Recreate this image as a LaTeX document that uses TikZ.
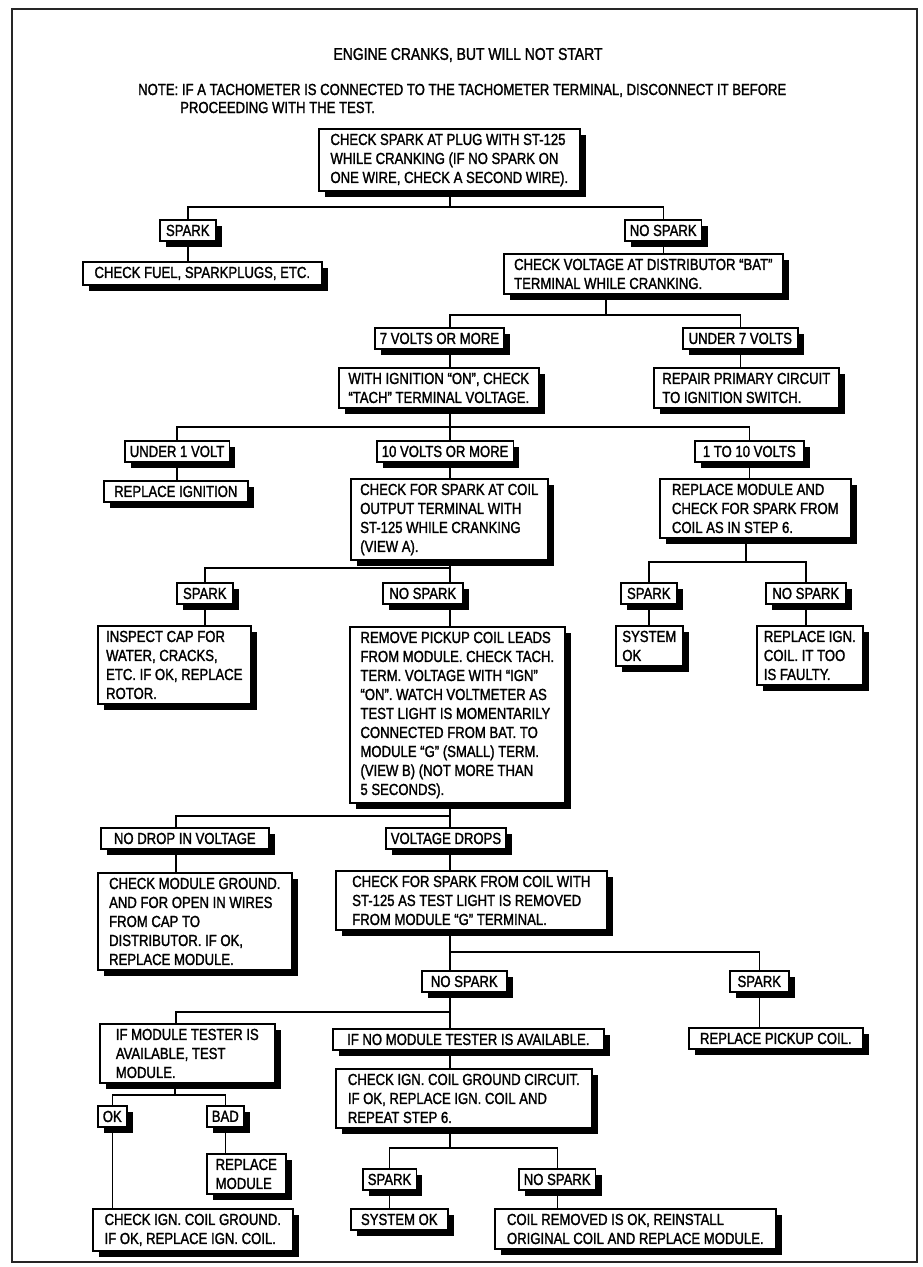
\documentclass[tikz,border=0pt]{standalone}
\usepackage{fontspec}
\setmainfont{Liberation Sans}[FakeStretch=0.82, FakeBold=1.5]
\usetikzlibrary{shadows}
\newcommand{\boxfont}{\fontsize{16}{19}\selectfont}

\begin{document}
\begin{tikzpicture}[
    x=1pt, y=-1pt,
    testbox/.style={draw, fill=white, line width=1.6pt, align=left, anchor=north west,
        inner xsep=5pt, inner ysep=5pt, font=\boxfont,
        drop shadow={shadow xshift=6pt, shadow yshift=-6pt, fill=black, opacity=1}},
    link/.style={line width=1.4pt}
]
\useasboundingbox (0,0) rectangle (922,1267);
\draw[line width=1.8pt, black!85] (12,9) rectangle (917,1262);

% ---- Heading ----
\node[font=\fontsize{17}{20}\selectfont] (title) at (468,55) {ENGINE CRANKS, BUT WILL NOT START};
\node[anchor=base west, font=\boxfont, inner sep=0pt] (note) at (138,95)
    {NOTE: IF A TACHOMETER IS CONNECTED TO THE TACHOMETER TERMINAL, DISCONNECT IT BEFORE};
\node[anchor=base west, font=\boxfont, inner sep=0pt] (notecont) at (180,113) {PROCEEDING WITH THE TEST.};

% ---- Spark at plug ----
\node[testbox, minimum width=261pt] (plug) at (318,128) {CHECK SPARK AT PLUG WITH ST-125\\WHILE CRANKING (IF NO SPARK ON\\ONE WIRE, CHECK A SECOND WIRE).};
\node[testbox, minimum width=56pt]  (spk1)  at (159,219) {SPARK};
\node[testbox, minimum width=73pt]  (nspk1) at (624,219) {NO SPARK};
\node[testbox, minimum width=239pt] (fuel)  at (82,261)  {CHECK FUEL, SPARKPLUGS, ETC.};
\node[testbox, minimum width=279pt] (bat)   at (503,253) {CHECK VOLTAGE AT DISTRIBUTOR ``BAT''\\TERMINAL WHILE CRANKING.};

% ---- Bat voltage ----
\node[testbox, minimum width=129pt] (v7up) at (374,327) {7 VOLTS OR MORE};
\node[testbox, minimum width=115pt] (v7dn) at (682,327) {UNDER 7 VOLTS};
\node[testbox, minimum width=200pt] (tach) at (338,367) {WITH IGNITION ``ON'', CHECK\\``TACH'' TERMINAL VOLTAGE.};
\node[testbox, minimum width=185pt] (prim) at (653,367) {REPAIR PRIMARY CIRCUIT\\TO IGNITION SWITCH.};

% ---- Tach voltage ----
\node[testbox, minimum width=102pt] (v1dn)    at (124,440) {UNDER 1 VOLT};
\node[testbox, minimum width=133pt] (v10up)   at (376,440) {10 VOLTS OR MORE};
\node[testbox, minimum width=109pt] (v1to10)  at (694,440) {1 TO 10 VOLTS};
\node[testbox, minimum width=144pt] (ign)     at (103,480) {REPLACE IGNITION};
\node[testbox, minimum width=197pt] (coilout) at (350,478) {CHECK FOR SPARK AT COIL\\OUTPUT TERMINAL WITH\\ST-125 WHILE CRANKING\\(VIEW A).};
\node[testbox, minimum width=191pt] (modstep) at (659,478) {REPLACE MODULE AND\\CHECK FOR SPARK FROM\\COIL AS IN STEP 6.};

% ---- Coil output ----
\node[testbox, minimum width=56pt]  (spk2)    at (176,582) {SPARK};
\node[testbox, minimum width=80pt]  (nspk2)   at (382,582) {NO SPARK};
\node[testbox, minimum width=56pt]  (spk3)    at (620,582) {SPARK};
\node[testbox, minimum width=80pt]  (nspk3)   at (765,582) {NO SPARK};
\node[testbox, minimum width=153pt] (capchk)  at (97,625)  {INSPECT CAP FOR\\WATER, CRACKS,\\ETC. IF OK, REPLACE\\ROTOR.};
\node[testbox, minimum width=215pt] (pickup)  at (349,626) {REMOVE PICKUP COIL LEADS\\FROM MODULE. CHECK TACH.\\TERM. VOLTAGE WITH ``IGN''\\``ON''. WATCH VOLTMETER AS\\TEST LIGHT IS MOMENTARILY\\CONNECTED FROM BAT. TO\\MODULE ``G'' (SMALL) TERM.\\(VIEW B) (NOT MORE THAN\\5 SECONDS).};
\node[testbox, minimum width=67pt]  (sysok1)  at (615,625) {SYSTEM\\OK};
\node[testbox, minimum width=106pt] (igncoil) at (756,625) {REPLACE IGN.\\COIL. IT TOO\\IS FAULTY.};

% ---- Voltmeter ----
\node[testbox, minimum width=168pt] (nodrop) at (100,827) {NO DROP IN VOLTAGE};
\node[testbox, minimum width=118pt] (vdrop)  at (385,827) {VOLTAGE DROPS};
\node[testbox, minimum width=194pt] (modgnd) at (97,872)  {CHECK MODULE GROUND.\\AND FOR OPEN IN WIRES\\FROM CAP TO\\DISTRIBUTOR. IF OK,\\REPLACE MODULE.};
\node[testbox, minimum width=271pt] (gterm)  at (335,870) {CHECK FOR SPARK FROM COIL WITH\\ST-125 AS TEST LIGHT IS REMOVED\\FROM MODULE ``G'' TERMINAL.};

% ---- G terminal ----
\node[testbox, minimum width=85pt]  (nspk4)    at (421,970)  {NO SPARK};
\node[testbox, minimum width=59pt]  (spk4)     at (729,970)  {SPARK};
\node[testbox, minimum width=175pt] (tester)   at (99,1023)  {IF MODULE TESTER IS\\AVAILABLE, TEST\\MODULE.};
\node[testbox, minimum width=271pt] (notester) at (332,1028) {IF NO MODULE TESTER IS AVAILABLE.};
\node[testbox, minimum width=174pt] (pickcoil) at (688,1027) {REPLACE PICKUP COIL.};
\node[testbox, minimum width=256pt] (gndcirc)  at (335,1068) {CHECK IGN. COIL GROUND CIRCUIT.\\IF OK, REPLACE IGN. COIL AND\\REPEAT STEP 6.};

% ---- Module tester / ground circuit ----
\node[testbox, minimum width=29pt]  (okay)   at (97,1105)  {OK};
\node[testbox, minimum width=35pt]  (bad)    at (206,1105) {BAD};
\node[testbox, minimum width=79pt]  (repmod) at (206,1153) {REPLACE\\MODULE};
\node[testbox, minimum width=200pt] (igngnd) at (92,1208)  {CHECK IGN. COIL GROUND.\\IF OK, REPLACE IGN. COIL.};
\node[testbox, minimum width=50pt]  (spk5)   at (362,1168) {SPARK};
\node[testbox, minimum width=73pt]  (nspk5)  at (518,1168) {NO SPARK};
\node[testbox, minimum width=97pt]  (sysok2) at (350,1208) {SYSTEM OK};
\node[testbox, minimum width=281pt] (reinst) at (494,1208) {COIL REMOVED IS OK, REINSTALL\\ORIGINAL COIL AND REPLACE MODULE.};

% ---- Connectors ----
\coordinate (spine) at (450,0);
\coordinate (lft)   at (176,0);
\coordinate (b1)  at (450,207);
\coordinate (b2)  at (606,315);
\coordinate (b3)  at (450,427);
\coordinate (b4)  at (450,568);
\coordinate (b5)  at (746,562);
\coordinate (b6)  at (450,816);
\coordinate (b7)  at (450,952);
\coordinate (b8)  at (450,1012);
\coordinate (b9)  at (175,1095);
\coordinate (b10) at (450,1148);

\draw[link] (plug.south -| b1) -- (b1) -| (spk1.north);
\draw[link] (b1) -| (nspk1.north);
\draw[link] (spk1.south) -- (spk1.south |- fuel.north);
\draw[link] (nspk1.south) -- (nspk1.south |- bat.north);

\draw[link] (bat.south -| b2) -- (b2) -| (v7up.north -| spine);
\draw[link] (b2) -| (v7dn.north);
\draw[link] (v7up.south -| spine) -- (tach.north -| spine);
\draw[link] (v7dn.south) -- (v7dn.south |- prim.north);

\draw[link] (tach.south -| b3) -- (b3) -| (v1dn.north);
\draw[link] (b3) -| (v1to10.north);
\draw[link] (b3) -- (v10up.north -| b3);
\draw[link] (v1dn.south) -- (v1dn.south |- ign.north);
\draw[link] (v10up.south -| spine) -- (coilout.north -| spine);
\draw[link] (v1to10.south) -- (v1to10.south |- modstep.north);

\draw[link] (coilout.south -| b4) -- (b4) -| (spk2.north);
\draw[link] (b4) -- (nspk2.north -| b4);
\draw[link] (modstep.south -| b5) -- (b5) -| (spk3.north);
\draw[link] (b5) -| (nspk3.north);
\draw[link] (spk2.south) -- (spk2.south |- capchk.north);
\draw[link] (nspk2.south -| spine) -- (pickup.north -| spine);
\draw[link] (spk3.south) -- (spk3.south |- sysok1.north);
\draw[link] (nspk3.south) -- (nspk3.south |- igncoil.north);

\draw[link] (pickup.south -| b6) -- (b6) -| (nodrop.north -| lft);
\draw[link] (b6) -- (vdrop.north -| b6);
\draw[link] (nodrop.south -| lft) -- (modgnd.north -| lft);
\draw[link] (vdrop.south -| spine) -- (gterm.north -| spine);

\draw[link] (gterm.south -| b7) -- (b7) -| (spk4.north);
\draw[link] (b7) -- (nspk4.north -| b7);
\draw[link] (spk4.south) -- (spk4.south |- pickcoil.north);
\draw[link] (nspk4.south -| b8) -- (b8) -| (tester.north -| lft);
\draw[link] (b8) -- (notester.north -| b8);
\draw[link] (notester.south -| spine) -- (gndcirc.north -| spine);

\draw[link] (tester.south -| b9) -- (b9) -| (okay.north);
\draw[link] (b9) -| (bad.north);
\draw[link] (okay.south) -- (okay.south |- igngnd.north);
\draw[link] (bad.south) -- (bad.south |- repmod.north);
\draw[link] (gndcirc.south -| b10) -- (b10) -| (spk5.north);
\draw[link] (b10) -| (nspk5.north);
\draw[link] (spk5.south) -- (spk5.south |- sysok2.north);
\draw[link] (nspk5.south) -- (nspk5.south |- reinst.north);

\end{tikzpicture}
\end{document}
